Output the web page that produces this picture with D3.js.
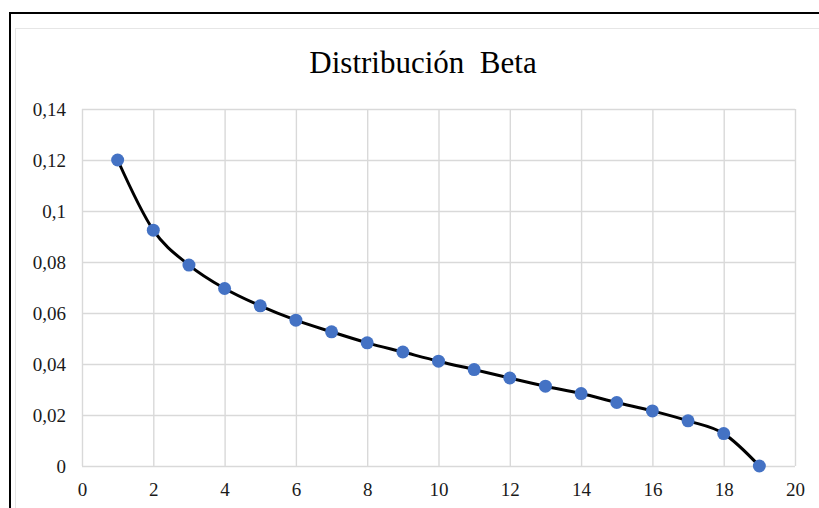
<!DOCTYPE html>
<html>
<head>
<meta charset="utf-8">
<script src="https://cdn.jsdelivr.net/npm/d3@7"></script>
<style>
  html, body { margin: 0; padding: 0; background: #fff; }
  svg { display: block; }
  .serif { font-family: "Liberation Serif", "DejaVu Serif", serif; }
</style>
</head>
<body>
<svg id="chart" width="819" height="508"></svg>
<script>
// Beta distribution sample: index and probability
const xValues = [1, 2, 3, 4, 5, 6, 7, 8, 9, 10, 11, 12, 13, 14, 15, 16, 17, 18, 19];
const yValues = [0.12, 0.0925, 0.0788, 0.0696, 0.0628, 0.0572, 0.0526, 0.0483, 0.0447, 0.0411,
                 0.0378, 0.0345, 0.0313, 0.0284, 0.0249, 0.0216, 0.0177, 0.0127, 0];
const xTicks = [0, 2, 4, 6, 8, 10, 12, 14, 16, 18, 20];
const yTicks = [0, 0.02, 0.04, 0.06, 0.08, 0.1, 0.12, 0.14];
const chartTitle = "Distribución  Beta";

const svg = d3.select("#chart");
const W = 819, H = 508;
const plot = { left: 82, right: 795, top: 109, bottom: 466 };

// outer frame
svg.append("rect")
  .attr("x", 10).attr("y", 13).attr("width", W + 20).attr("height", H + 20)
  .attr("fill", "#fff").attr("stroke", "#000").attr("stroke-width", 2);
// chart area
svg.append("rect")
  .attr("x", 15.5).attr("y", 28.5).attr("width", W).attr("height", H)
  .attr("fill", "#fff").attr("stroke", "#e6e6e6").attr("stroke-width", 1);

const x = d3.scaleLinear().domain([0, 20]).range([plot.left, plot.right]);
const y = d3.scaleLinear().domain([0, 0.14]).range([plot.bottom, plot.top]);

const fmt = v => String(+v.toFixed(2)).replace(".", ",");

// gridlines
svg.append("g")
  .attr("transform", `translate(0,${plot.bottom})`)
  .call(d3.axisBottom(x).tickValues(xTicks).tickSize(-(plot.bottom - plot.top)).tickFormat(""))
  .call(g => g.select(".domain").remove())
  .call(g => g.selectAll(".tick line").attr("stroke", "#d9d9d9").attr("stroke-width", 1.4));
svg.append("g")
  .attr("transform", `translate(${plot.left},0)`)
  .call(d3.axisLeft(y).tickValues(yTicks).tickSize(-(plot.right - plot.left)).tickFormat(""))
  .call(g => g.select(".domain").remove())
  .call(g => g.selectAll(".tick line").attr("stroke", "#d9d9d9").attr("stroke-width", 1.4));

// axis labels
svg.append("g")
  .attr("transform", `translate(0,${plot.bottom})`)
  .call(d3.axisBottom(x).tickValues(xTicks).tickSize(0).tickPadding(17).tickFormat(fmt))
  .attr("font-family", null).attr("font-size", null)
  .call(g => g.select(".domain").remove())
  .call(g => g.selectAll("text").classed("serif", true).style("font-size", "19px").attr("fill", "#1a1a1a"));
svg.append("g")
  .attr("transform", `translate(${plot.left},0)`)
  .call(d3.axisLeft(y).tickValues(yTicks).tickSize(0).tickPadding(16).tickFormat(fmt))
  .attr("font-family", null).attr("font-size", null)
  .call(g => g.select(".domain").remove())
  .call(g => g.selectAll("text").classed("serif", true).style("font-size", "19px").attr("fill", "#1a1a1a"));

// title
svg.append("text")
  .attr("class", "serif")
  .attr("x", 423).attr("y", 73)
  .attr("text-anchor", "middle")
  .style("font-size", "31px")
  .style("white-space", "pre")
  .attr("fill", "#000")
  .text(chartTitle);

// series
const data = xValues.map((d, i) => [d, yValues[i]]);
const line = d3.line().x(d => x(d[0])).y(d => y(d[1])).curve(d3.curveMonotoneX);
svg.append("path")
  .datum(data)
  .attr("d", line)
  .attr("fill", "none").attr("stroke", "#000").attr("stroke-width", 3);

svg.append("g").selectAll("circle")
  .data(data)
  .join("circle")
  .attr("cx", d => x(d[0])).attr("cy", d => y(d[1]))
  .attr("r", 6.5)
  .attr("fill", "#4472C4");
</script>
</body>
</html>
